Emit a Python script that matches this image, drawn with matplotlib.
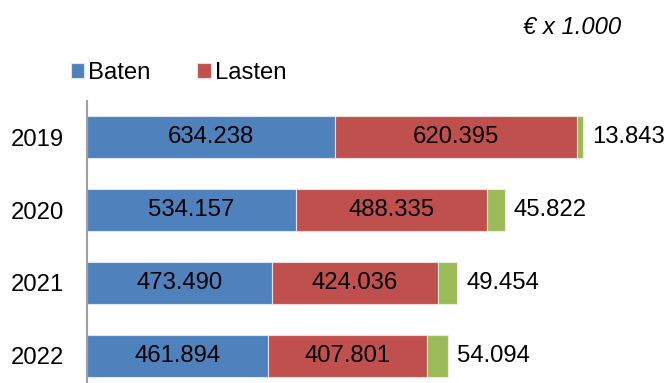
import numpy as np
import matplotlib
matplotlib.use("Agg")
import matplotlib.pyplot as plt

# Baten / Lasten / saldo per jaar (x 1.000 euro)
jaren = ["2019", "2020", "2021", "2022"]
baten = [634.238, 534.157, 473.490, 461.894]
lasten = [620.395, 488.335, 424.036, 407.801]
saldo = [13.843, 45.822, 49.454, 54.094]
labels_baten = ["634.238", "534.157", "473.490", "461.894"]
labels_lasten = ["620.395", "488.335", "424.036", "407.801"]
labels_saldo = ["13.843", "45.822", "49.454", "54.094"]

plt.rcParams["font.family"] = ["Liberation Sans", "DejaVu Sans"]
fs = 17.2

W, H = 671, 383
fig = plt.figure(figsize=(W / 100, H / 100), dpi=100)
# assen in pixels: links x=87, boven y=101, onder y=392 (valt buiten beeld)
ax = fig.add_axes([87 / W, 1 - 392 / H, 600 / W, 291 / H])

y = np.arange(len(jaren))
kleur_baten = "#4F81BD"
kleur_lasten = "#C0504D"
kleur_saldo = "#9BBB59"
h = 0.58

b1 = ax.barh(y, baten, height=h, color=kleur_baten, edgecolor="#dde6f0", linewidth=0.8, label="Baten")
b2 = ax.barh(y, lasten, left=baten, height=h, color=kleur_lasten, edgecolor="#f0dcdc", linewidth=0.8, label="Lasten")
links = np.array(baten) + np.array(lasten)
b3 = ax.barh(y, saldo, left=links, height=h, color=kleur_saldo, edgecolor="#e6eedc", linewidth=0.8)

for i in range(len(jaren)):
    ax.text(baten[i] / 2, y[i], labels_baten[i], ha="center", va="center", fontsize=fs)
    ax.text(baten[i] + lasten[i] / 2, y[i], labels_lasten[i], ha="center", va="center", fontsize=fs)
    ax.annotate(labels_saldo[i], (links[i] + saldo[i], y[i]), xytext=(6.5, 0),
                textcoords="offset points", ha="left", va="center", fontsize=fs)

ax.set_xlim(0, 1535)
ax.set_ylim(len(jaren) - 0.5, -0.5)
ax.set_yticks(y)
ax.set_yticklabels(jaren, fontsize=fs)
ax.tick_params(axis="y", length=0, pad=16.5)
ax.set_xticks([])
for s in ["top", "right", "bottom"]:
    ax.spines[s].set_visible(False)
ax.spines["left"].set_color("#a0a0a0")
ax.spines["left"].set_linewidth(1.5)

fig.legend(handles=[b1, b2], labels=["Baten", "Lasten"], ncol=2, frameon=False,
           loc="center left", bbox_to_anchor=(61 / W, 1 - 73 / H), fontsize=fs,
           handlelength=0.55, handleheight=0.55, handletextpad=0.2, columnspacing=1.95,
           borderaxespad=0)

fig.text(621 / W, 1 - 28 / H, "€ x 1.000", ha="right", va="center", fontsize=fs, style="italic")

fig.savefig("out.png", dpi=100)
